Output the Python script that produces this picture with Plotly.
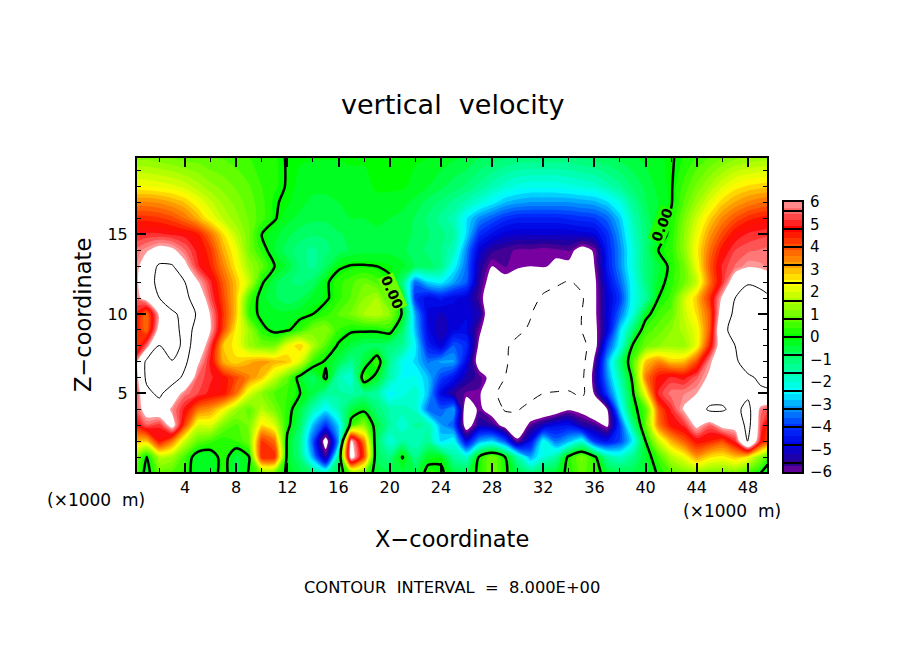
import plotly.graph_objects as go

# grid of the field
x_km = list(range(51))
z_km = list(range(19)) + [20]

w00 = [1.0,-0.3,0.8,0.6,0.3,-0.4,-0.4,0.3,-0.6,0.05, 1.0,0.9,-0.2,-0.6,-1.0,-1.6,-0.6,1.0,0.8,-0.4, -0.6,-0.5,-0.6,0.25,0.15,-0.5,-0.6,0.2,1.0,0.15, -0.6,-1.0,-0.6,-0.4,0.2,0.8,0.4,-0.4,-0.6,-0.6, -0.5,0.1,0.7,1.0,1.2,1.0,1.0,1.0,0.5,0.0,-0.6]
w01 = [1.4,-0.1,1.6,1.4,0.5,-0.4,-0.4,0.3,-0.5,-0.05, 4.4,4.4,-0.3,-1.0,-3.0,-5.4,-1.2,6.6,4.0,-0.8, -1.1,0.05,-1.2,-0.25,-0.15,-1.4,-1.8,0.1,1.0,0.05, -1.5,-3.0,-2.0,-1.4,0.2,1.0,0.2,-1.4,-1.8,-1.2, -0.4,0.5,1.6,2.2,3.2,2.6,2.4,2.8,2.4,1.2,0.0]
w02 = [3.0,2.8,4.6,3.5,1.8,0.8,0.5,0.2,0.4,0.9, 4.2,3.6,-0.2,-1.2,-3.6,-6.6,-3.0,6.2,3.4,-0.8, -2.0,-1.4,-1.7,-1.3,-2.6,-2.2,-4.6,-3.0,-2.6,-3.6, -5.8,-4.5,-2.2,-3.4,-2.8,-2.0,-4.0,-4.4,-3.8,-2.4, 0.0,1.8,3.0,3.8,4.6,4.4,4.0,5.0,8.1,4.8,3.2]
w03 = [4.4,5.4,5.0,6.5,4.0,2.0,2.0,1.0,0.6,1.0, 2.6,2.0,0.2,-0.8,-2.8,-4.0,-2.6,0.4,1.2,-0.5, -1.4,-2.0,-1.4,-1.5,-3.0,-3.6,-6.6,-5.2,-5.4,-6.4, -7.0,-5.7,-5.0,-4.5,-4.4,-5.2,-5.5,-6.2,-3.8,-1.2, 0.8,3.5,4.6,5.0,6.3,5.4,6.4,6.5,8.6,5.3,3.5]
w04 = [5.0,6.6,7.0,5.8,4.8,3.6,3.2,2.4,1.4,0.8, 1.6,1.0,0.3,-0.5,-1.6,-2.4,-1.6,-0.5,-0.2,-1.0, -1.5,-1.6,-1.8,-3.4,-3.6,-3.0,-6.8,-5.8,-6.5,-8.2, -8.2,-7.0,-7.0,-6.6,-6.1,-6.3,-7.0,-6.0,-2.6,-0.3, 0.6,3.8,5.0,6.1,7.0,8.3,8.2,7.5,8.6,5.6,5.0]
w05 = [4.6,7.5,8.4,6.8,5.6,5.2,4.8,4.6,3.6,2.0, 1.2,0.6,0.4,0.0,-0.6,-1.3,-1.4,-1.5,-1.2,-1.4, -2.4,-2.1,-1.8,-2.8,-4.6,-5.4,-5.8,-5.8,-7.6,-8.6, -9.5,-9.0,-8.0,-7.5,-7.6,-8.6,-5.9,-3.8,-2.0,-0.1, 2.3,5.0,5.6,5.7,6.0,7.0,7.4,7.2,7.6,7.8,7.8]
w06 = [4.8,8.4,9.4,9.0,7.5,5.4,5.0,4.6,4.0,3.4, 2.8,1.8,0.8,-0.3,-0.8,0.15,-1.6,-2.0,0.5,-0.3, -1.5,-2.3,-2.2,-2.8,-3.8,-4.4,-5.2,-5.6,-6.3,-8.0, -11,-12,-12,-12,-10,-8.5,-5.4,-3.2,-1.5,0.2, 3.5,4.6,5.0,4.8,5.4,6.2,7.0,7.3,7.8,8.2,8.6]
w07 = [5.0,8.4,9.0,8.1,8.4,6.2,4.8,3.0,2.6,3.0, 3.2,3.0,2.8,2.0,0.4,-0.1,-0.6,-1.2,-0.5,0.5, -1.3,-2.2,-2.6,-3.4,-3.0,-3.0,-4.6,-6.5,-7.4,-7.8, -8.6,-11,-12,-12,-11,-8.8,-5.8,-3.0,-1.0,0.6, 2.8,3.4,2.8,2.9,4.0,5.8,7.0,7.8,8.6,9.0,8.4]
w08 = [3.5,5.5,8.1,7.0,8.6,7.2,5.2,2.8,2.4,1.4, 1.0,1.0,2.2,2.8,1.6,0.6,-0.1,-0.5,-0.8,-0.8, -1.0,-1.3,-2.4,-4.2,-4.8,-3.6,-4.0,-6.2,-7.5,-7.8, -8.4,-9.5,-11,-12,-12,-9.0,-6.5,-3.8,-2.2,0.1, 0.9,1.2,1.4,1.3,2.2,4.4,7.0,8.0,8.8,9.5,8.3]
w09 = [4.8,3.6,6.5,7.4,8.5,7.6,6.0,4.0,2.4,1.4, 0.2,-0.2,-0.1,0.4,1.0,1.2,0.4,0.1,0.1,0.1, 0.3,-0.8,-2.8,-4.6,-5.2,-4.7,-4.6,-5.8,-7.0,-7.3, -7.7,-8.2,-10,-11,-11,-8.0,-6.3,-4.8,-2.6,-1.0, 0.5,0.8,1.2,1.6,2.2,3.8,7.5,8.7,10,11,10]
w10 = [5.0,3.6,6.2,7.4,9.0,7.8,5.9,4.2,2.8,0.4, -0.2,-0.3,-0.3,-0.2,0.0,0.3,0.7,1.0,1.5,1.7, 1.2,-0.1,-3.0,-4.7,-5.0,-4.8,-4.7,-5.2,-7.0,-7.5, -7.5,-7.9,-9,-10,-10,-8.0,-6.2,-4.8,-3.4,-2.0, -0.3,0.5,0.8,1.8,2.6,3.8,6.8,8.4,10,10,8.0]
w11 = [5.4,6.5,8.0,10,8.5,7.0,5.3,4.0,2.8,0.6, -0.3,-0.6,-0.9,-0.7,-0.3,-0.1,0.3,0.7,1.2,1.5, 0.4,-0.2,-4.0,-4.6,-4.3,-4.6,-4.8,-5.6,-7.0,-7.0, -7.0,-7.5,-8.2,-9.0,-9.5,-8.3,-6.2,-4.8,-3.9,-2.2, -1.4,0.0,0.5,1.8,2.8,4.2,6.2,8.0,10,9.0,7.8]
w12 = [5.5,7.0,8.6,8.8,8.0,6.1,5.0,3.8,2.8,1.8, 0.1,-0.6,-0.9,-1.0,-0.8,-0.1,0.3,0.6,0.9,0.6, 0.1,-1.0,-3.5,-2.6,-2.4,-3.0,-3.6,-5.4,-6.5,-6.3, -6.6,-6.8,-7.5,-7.6,-8.2,-7.5,-6.2,-4.6,-3.5,-2.2, -1.1,-0.3,0.3,0.9,1.8,3.6,5.0,6.8,7.6,7.2,6.5]
w13 = [5.4,6.8,8.3,8.2,6.3,5.0,4.4,3.4,2.4,1.4, 0.8,0.0,-0.5,-1.0,-1.3,-0.8,-0.1,0.05,0.05,0.0, -0.1,-0.3,-0.7,-0.8,-1.1,-2.3,-3.4,-5.2,-6.0,-5.7, -5.9,-6.0,-5.9,-6.2,-6.2,-6.8,-6.0,-4.3,-3.2,-2.0, -1.0,-0.5,0.2,0.9,2.2,3.8,5.0,5.5,5.9,5.8,5.6]
w14 = [5.5,5.9,6.4,6.2,5.5,4.8,4.2,3.0,2.2,1.0, 0.3,-0.4,-0.8,-1.1,-1.3,-1.0,-0.8,-0.6,-0.5,-0.5, -0.5,-0.6,-0.8,-1.0,-1.2,-1.7,-3.2,-4.8,-5.4,-5.6, -5.8,-5.8,-5.9,-5.8,-5.7,-6.4,-5.9,-4.2,-3.2,-2.0, -1.0,0.0,0.3,1.2,2.4,3.6,4.6,5.2,5.4,5.5,5.6]
w15 = [4.9,5.0,5.0,4.9,4.8,4.5,3.6,2.6,1.7,1.0, 0.0,-0.3,-0.6,-0.8,-0.9,-0.9,-0.7,-0.6,-0.5,-0.5, -0.5,-0.6,-0.7,-0.9,-1.1,-1.4,-2.6,-4.0,-4.5,-4.8, -4.9,-4.9,-4.9,-4.9,-4.9,-4.8,-4.7,-4.0,-3.0,-1.8, -1.0,-0.4,0.2,1.2,2.2,3.2,4.0,4.7,5.0,5.1,5.2]
w16 = [4.3,4.3,4.2,4.0,3.6,3.0,2.3,1.7,1.3,0.9, 0.5,0.05,-0.3,-0.5,-0.6,-0.6,-0.5,-0.4,-0.4,-0.3, -0.4,-0.5,-0.7,-1.0,-1.3,-1.6,-2.5,-3.2,-3.6,-4.0, -4.2,-4.2,-4.2,-4.2,-4.1,-4.0,-3.9,-3.5,-2.7,-1.6, -0.9,-0.2,0.1,1.0,1.9,2.7,3.4,3.9,4.3,4.5,4.6]
w17 = [3.4,3.4,3.3,3.1,2.8,2.3,1.8,1.4,1.1,0.8, 0.5,0.05,-0.1,-0.3,-0.5,-0.5,-0.4,-0.3,-0.2,-0.2, -0.2,-0.3,-0.5,-0.8,-1.0,-1.3,-1.6,-2.0,-2.4,-2.8, -3.0,-3.1,-3.1,-3.1,-3.1,-3.0,-2.9,-2.6,-2.1,-1.3, -0.7,-0.4,-0.05,0.7,1.4,2.1,2.7,3.1,3.4,3.6,3.7]
w18 = [2.3,2.3,2.2,2.1,1.9,1.6,1.3,1.1,0.9,0.7, 0.4,0.2,-0.05,-0.2,-0.3,-0.3,-0.3,-0.2,-0.2,-0.1, -0.1,-0.1,-0.2,-0.4,-0.6,-0.8,-1.0,-1.3,-1.6,-1.9, -2.1,-2.2,-2.2,-2.2,-2.1,-2.0,-1.9,-1.6,-1.3,-0.9, -0.6,-0.3,-0.05,0.5,1.0,1.5,2.0,2.4,2.6,2.7,2.8]
w20 = [1.0,1.0,0.9,0.8,0.7,0.7,0.6,0.6,0.5,0.4, 0.3,0.2,-0.05,-0.1,-0.1,-0.1,-0.1,-0.1,-0.1,-0.1, -0.1,-0.1,-0.1,-0.1,-0.2,-0.3,-0.4,-0.6,-0.7,-0.8, -0.9,-0.9,-0.9,-0.9,-0.9,-0.8,-0.7,-0.6,-0.5,-0.4, -0.3,-0.2,-0.05,0.15,0.4,0.6,0.8,1.0,1.1,1.2,1.2]
w_rows = [w00,w01,w02,w03,w04,w05,w06,w07,w08,w09,w10,w11,w12,w13,w14,w15,w16,w17,w18,w20]

# colour table, white outside +-6
levels = [-6.0,-5.6,-4.8,-4.0,-3.2,-2.4,-1.6,-0.8,0.0,0.8,1.6,2.4,3.2,4.0,4.8,5.6,6.0]
colors = ["#7a00a0","#2a0090","#0000e0","#0030ff","#0090ff","#00ffff","#00ffb0","#00ff60",
          "#00ff00","#60ff00","#b0ff00","#ffff00","#ffa000","#ff5000","#ff0000","#ff6868","#ff9a9a"]
band_step = 12 / 45
w_lim = 6 + band_step

stops = [[0, "white"], [(-6.01 + w_lim) / (2 * w_lim), "white"]]
stops += [[(v + w_lim) / (2 * w_lim), c] for v, c in zip(levels, colors)]
stops += [[(6.01 + w_lim) / (2 * w_lim), "white"], [1, "white"]]

fig = go.Figure()
fig.add_trace(go.Contour(x=x_km, y=z_km, z=w_rows, colorscale=stops, zmin=-w_lim, zmax=w_lim,
                         autocontour=False, showscale=False, hoverinfo="skip",
                         contours=dict(start=-6, end=6, size=band_step, coloring="fill", showlines=False),
                         line=dict(width=0, smoothing=0.8)))


def line_trace(level, width, dash):
    return go.Contour(x=x_km, y=z_km, z=w_rows, autocontour=False, showscale=False, hoverinfo="skip",
                      contours=dict(start=level, end=level, size=1, coloring="none"),
                      line=dict(color="black", width=width, dash=dash, smoothing=0.8))


fig.add_trace(line_trace(0, 2.5, "solid"))
fig.add_trace(line_trace(8, 1, "solid"))
fig.add_trace(line_trace(-8, 1, "dash"))

# colour key
bar_y = [-6 + band_step * (i + 0.5) for i in range(45)]
fig.add_trace(go.Heatmap(x=[0.5], y=bar_y, z=[[v] for v in bar_y], colorscale=stops, zmin=-w_lim, zmax=w_lim,
                         showscale=False, hoverinfo="skip", xaxis="x2", yaxis="y2"))
key_x, key_y = [], []
for k in range(-7, 8):
    key_x += [0, 1, None]
    key_y += [k * 0.8, k * 0.8, None]
fig.add_trace(go.Scatter(x=key_x, y=key_y, mode="lines", line=dict(color="black", width=2),
                         showlegend=False, hoverinfo="skip", xaxis="x2", yaxis="y2"))

# page body has an 8 px margin, so the figure is 16 px smaller than the window
W, H = 888, 638


def fx(px):
    return (px - 8) / W


def fy(py):
    return 1 - (py - 8) / H


font = "DejaVu Sans"
fig.update_layout(
    width=W, height=H, margin=dict(l=0, r=0, t=0, b=0), plot_bgcolor="white", paper_bgcolor="white",
    showlegend=False, font=dict(family=font, color="black", size=16),
    xaxis=dict(domain=[fx(137), fx(767)], range=[0.25, 49.49], tickvals=list(range(4, 49, 4)), automargin=False,
               ticks="inside", ticklen=9, tickwidth=2, tickcolor="black", showgrid=False, zeroline=False,
               showline=True, linecolor="black", linewidth=2, mirror="allticks",
               minor=dict(tickvals=list(range(2, 50, 4)), ticks="inside", ticklen=4, tickwidth=1, tickcolor="black"),
               tickfont=dict(size=16)),
    yaxis=dict(domain=[fy(472), fy(158)], range=[0.06, 19.81], tickvals=[5, 10, 15], automargin=False,
               ticks="inside", ticklen=9, tickwidth=2, tickcolor="black", showgrid=False, zeroline=False,
               showline=True, linecolor="black", linewidth=2, mirror="allticks", ticklabelstandoff=4,
               minor=dict(tickvals=[v for v in range(1, 20) if v % 5], ticks="inside", ticklen=4, tickwidth=1, tickcolor="black"),
               tickfont=dict(size=16)),
    xaxis2=dict(domain=[fx(784), fx(802)], range=[0, 1], showticklabels=False, ticks="", showgrid=False, automargin=False,
                zeroline=False, showline=True, linecolor="black", linewidth=2, mirror=True, anchor="y2"),
    yaxis2=dict(domain=[fy(472), fy(202)], range=[-6, 6], tickvals=list(range(-6, 7)), side="right", automargin=False,
                anchor="x2", ticks="outside", ticklen=3, tickcolor="rgba(0,0,0,0)", showgrid=False, zeroline=False,
                showline=True, linecolor="black", linewidth=2, mirror=True, tickfont=dict(size=15)),
)


def label(text, x, y, size, angle=0):
    fig.add_annotation(text=text, x=fx(x), y=fy(y), xref="paper", yref="paper", showarrow=False,
                       font=dict(family=font, size=size, color="black"), textangle=angle,
                       xanchor="center", yanchor="middle")


label("vertical  velocity", 452, 104, 27)
label("X\u2212coordinate", 452, 539, 22.5)
label("Z\u2212coordinate", 83, 315, 22.5, -90)
label("(\u00d71000  m)", 96, 500, 17)
label("(\u00d71000  m)", 732, 511, 17)
label("CONTOUR  INTERVAL  =  8.000E+00", 452, 587, 16.3)


# labels sitting on the zero line, the box hides the line underneath
def zero_label(x, y, angle, back):
    fig.add_annotation(text="0.00", x=fx(x), y=fy(y), xref="paper", yref="paper", showarrow=False,
                       font=dict(family=font, size=14, color="black", weight=700), textangle=angle,
                       bgcolor=back, borderpad=0, xanchor="center", yanchor="middle")


zero_label(392, 292, 66, "#70ff00")
zero_label(662, 225, -68, "#20ff00")

fig.write_html("out.html")
